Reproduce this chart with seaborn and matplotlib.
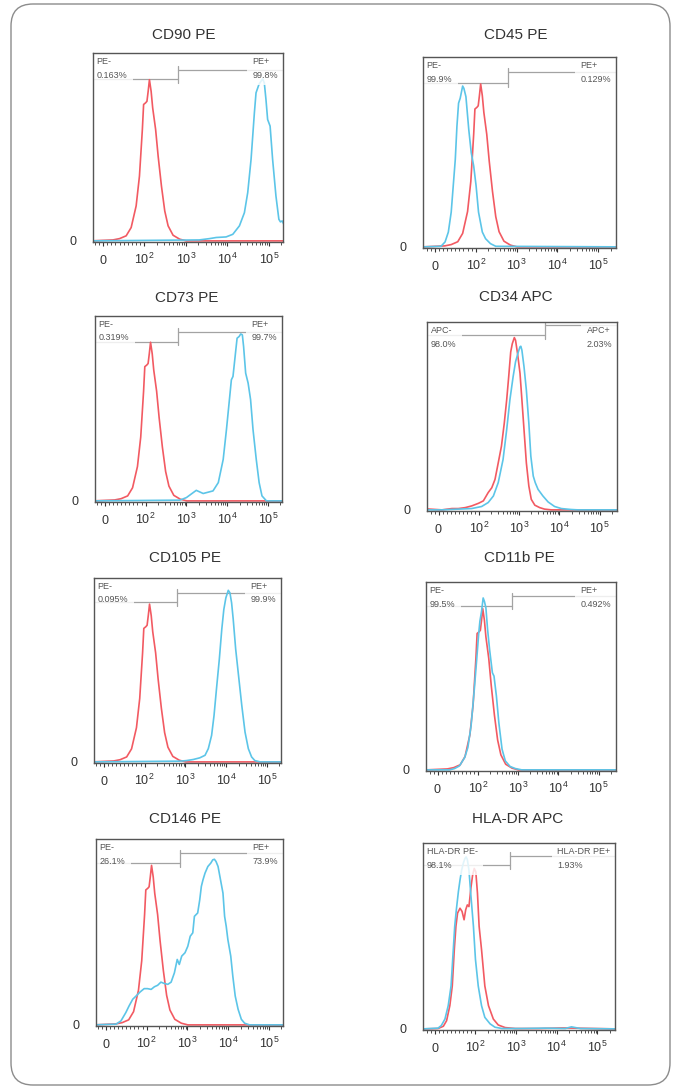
import matplotlib
matplotlib.use('Agg')
import matplotlib.pyplot as plt
import seaborn as sns
from matplotlib.patches import FancyBboxPatch
from matplotlib.ticker import FixedLocator

# intensities on the x axis, y = height as % of the panel
pe_ctrl_x = [-29, 24, 40, 56, 68, 80, 88, 95, 98, 107, 115, 123, 132, 145, 158, 186, 214, 257,
             309, 372, 490, 708, 1020, 270000]
pe_ctrl_y = [0, 0.5, 1.2, 2.7, 7.1, 18.6, 34.5, 59.3, 72.6, 73.5, 74.3, 79.6, 85.8, 79.6, 70.8,
             59.3, 45.1, 29.2, 15.9, 8.0, 3.0, 0.9, 0, 0]

cd90_x = [-29, 2100, 3700, 5400, 9300, 13500, 19500, 25700, 30900, 37200, 44700, 49000, 57500,
          64600, 70800, 77600, 85100, 93300, 107000, 123000, 148000, 174000, 190000, 209000, 240000]
cd90_y = [0, 0.5, 1.2, 1.8, 2.1, 3.5, 8.0, 15.0, 25.7, 43.4, 68.1, 78.8, 83.2, 85.0, 86.2, 84.1,
          75.2, 64.6, 61.1, 43.4, 23.9, 11.5, 10.1, 10.6, 8.0]

cd45_x = [-29, 15, 25, 33, 40, 45, 50, 54, 58, 62, 68, 71, 76, 83, 89, 95, 102, 117, 145, 174,
          229, 309, 270000]
cd45_y = [0, 0.3, 2.6, 7.8, 18.3, 32.2, 46.1, 63.5, 75.7, 78.3, 84.7, 83.5, 79.1, 61.7, 49.6,
          42.6, 32.2, 18.3, 7.8, 4.3, 1.7, 0.3, 0]

cd73_x = [-29, 690, 1000, 1740, 2570, 4470, 6030, 7940, 9550, 11500, 12600, 13800, 16200, 17400,
          19500, 21400, 23400, 25100, 28200, 32400, 37200, 42700, 51300, 60300, 70800, 91200, 270000]
cd73_y = [0, 0.4, 1.8, 5.7, 4.0, 5.4, 9.9, 22.4, 38.6, 56.6, 65.5, 67.3, 81.7, 88.0, 88.9, 90.3,
          89.8, 83.5, 69.1, 63.7, 54.8, 38.6, 22.4, 9.9, 2.7, 0, 0]

cd34_red_x = [-29, 8, 33, 49, 66, 82, 99, 129, 170, 209, 251, 302, 363, 427, 490, 550, 617, 676,
              759, 813, 912, 1050, 1170, 1320, 1510, 1740, 2000, 2450, 3240, 4270, 6310, 270000]
cd34_red_y = [0.5, 0, 0.7, 0.7, 1.2, 2.1, 3.5, 4.8, 9.2, 11.8, 16.2, 25.0, 33.9, 46.2, 58.6, 70.9,
              84.1, 88.5, 91.7, 90.3, 83.2, 72.7, 58.6, 42.7, 25.0, 12.7, 5.6, 2.5, 1.2, 0.4, 0, 0]
cd34_x = [-29, 8, 49, 82, 117, 170, 229, 302, 398, 490, 589, 708, 813, 955, 1050, 1100, 1170, 1320,
          1510, 1740, 1950, 2240, 2510, 2950, 3890, 5250, 7590, 11200, 19500, 28800, 270000]
cd34_y = [0, 0, 0.4, 0.7, 1.8, 3.9, 7.4, 14.5, 26.8, 42.7, 58.6, 70.9, 78.8, 84.1, 86.8, 87.1,
          85.0, 76.2, 63.8, 46.2, 28.6, 18.0, 14.5, 10.9, 7.4, 4.2, 1.8, 0.7, 0.2, 0, 0]

cd105_x = [-29, 720, 1050, 1550, 2240, 3020, 3630, 4370, 5010, 5750, 6760, 7760, 8710, 9770, 11200,
           12300, 13500, 14800, 17000, 20000, 24000, 28800, 34700, 41700, 50100, 67600, 270000]
cd105_y = [0, 0.4, 0.7, 1.3, 2.2, 3.6, 7.2, 14.4, 25.2, 39.6, 55.9, 72.1, 82.9, 89.2, 93.3, 91.9,
           86.5, 77.5, 61.3, 46.8, 30.6, 16.2, 7.2, 2.7, 0.7, 0, 0]

cd11b_x = [-29, 30, 42, 54, 67, 75, 83, 91, 97, 105, 112, 123, 135, 145, 158, 174, 195, 229, 251,
           288, 331, 398, 479, 631, 851, 1230, 270000]
cd11b_y = [0, 0, 0.7, 2.1, 6.5, 11.9, 23.4, 42.8, 58.8, 72.9, 79.1, 84.4, 91.5, 89.7, 86.2, 74.7,
           64.1, 51.7, 49.9, 39.3, 25.1, 11.0, 4.8, 1.8, 0.7, 0, 0]

cd146_x = [-29, 25, 37, 49, 57, 66, 74, 84, 94, 105, 129, 155, 186, 224, 269, 331, 398, 479, 562,
           631, 724, 871, 1020, 1170, 1350, 1480, 1780, 2000, 2190, 2400, 2690, 3160, 3720, 4170,
           4570, 5010, 5620, 6460, 7410, 8130, 8910, 9770, 11500, 12900, 14800, 17400, 20900,
           25100, 33100, 270000]
cd146_y = [0, 0.4, 2.1, 6.6, 10.2, 13.8, 15.5, 17.7, 19.5, 19.5, 19.1, 20.5, 21.3, 23.0, 22.3,
           21.8, 23.0, 28.0, 35.2, 32.5, 37.0, 38.8, 42.3, 47.7, 49.5, 58.4, 60.2, 67.3, 74.5,
           78.0, 81.6, 85.2, 87.0, 88.8, 89.1, 87.9, 85.2, 78.0, 70.9, 58.4, 53.0, 45.9, 37.0,
           26.3, 15.5, 8.4, 3.0, 0.9, 0, 0]

hladr_red_x = [-29, 8, 21, 29, 37, 43, 48, 52, 56, 62, 67, 72, 76, 80, 84, 89, 93, 97, 102, 112,
               123, 141, 170, 209, 275, 363, 537, 955, 3550, 13500, 28800, 270000]
hladr_red_y = [0, 0.2, 1.4, 4.4, 12.5, 23.1, 42.7, 55.2, 62.3, 64.9, 63.2, 58.7, 64.1, 66.7, 65.8,
               76.2, 82.7, 86.3, 84.5, 73.0, 55.2, 42.7, 23.1, 12.5, 5.3, 2.1, 0.7, 0.2, 0.2, 0.5,
               0.4, 0]
hladr_x = [-29, 8, 16, 25, 33, 40, 45, 49, 53, 58, 62, 66, 70, 74, 77, 80, 84, 89, 95, 100, 117,
           141, 170, 229, 302, 447, 1380, 5250, 16200, 22900, 28800, 38000, 270000]
hladr_y = [0, 0.4, 1.8, 5.3, 12.5, 23.1, 40.9, 55.2, 64.1, 73.8, 80.1, 85.4, 89.0, 91.6, 92.5,
           91.1, 85.4, 71.2, 55.2, 37.4, 23.1, 12.5, 6.2, 2.7, 0.9, 0.2, 0.2, 0.4, 0.2, 1.1, 0.7,
           0.2, 0]

titles = ['CD90 PE', 'CD45 PE', 'CD73 PE', 'CD34 APC', 'CD105 PE', 'CD11b PE', 'CD146 PE',
          'HLA-DR APC']
neg_labels = ['PE-', 'PE-', 'PE-', 'APC-', 'PE-', 'PE-', 'PE-', 'HLA-DR PE-']
pos_labels = ['PE+', 'PE+', 'PE+', 'APC+', 'PE+', 'PE+', 'PE+', 'HLA-DR PE+']
neg_pct = ['0.163%', '99.9%', '0.319%', '98.0%', '0.095%', '99.5%', '26.1%', '98.1%']
pos_pct = ['99.8%', '0.129%', '99.7%', '2.03%', '99.9%', '0.492%', '73.9%', '1.93%']
gate_split = [650, 600, 630, 4470, 630, 700, 670, 710]

tick_values = [0, 100, 1000, 10000, 100000]
tick_labels = ['$0$', '$10^{2}$', '$10^{3}$', '$10^{4}$', '$10^{5}$']
minor_values = [-20, -10, 10, 20, 30, 40, 50, 60, 70, 80, 90,
                200, 300, 400, 500, 600, 700, 800, 900,
                2000, 3000, 4000, 5000, 6000, 7000, 8000, 9000,
                20000, 30000, 40000, 50000, 60000, 70000, 80000, 90000, 200000]

RED = '#f25a62'
BLUE = '#5cc5e8'

# layout in pixels: frame (left, top, right, bottom), title centre, gate heights
frames = [(93, 53, 283, 242), (423, 57, 616, 248), (95, 316, 282, 502), (427, 322, 617, 511),
          (94, 578, 281, 763), (426, 582, 616, 771), (96, 839, 283, 1026), (423, 843, 615, 1030)]
title_pos = [(184, 35), (516, 35), (187, 298), (516, 297), (185, 558), (519, 558), (185, 819),
             (518, 819)]
gate_heights = [(86.2, 91.2), (86.4, 92.2), (86.2, 91.6), (92.9, 98.2), (86.8, 91.9), (87.4, 92.4),
                (87.0, 92.3), (88.1, 92.9)]
xlims = [(-24, 2.19e5), (-29, 2.7e5)]

curves = [
    (pe_ctrl_x, pe_ctrl_y, cd90_x, cd90_y),
    (pe_ctrl_x, pe_ctrl_y, cd45_x, cd45_y),
    (pe_ctrl_x, pe_ctrl_y, cd73_x, cd73_y),
    (cd34_red_x, cd34_red_y, cd34_x, cd34_y),
    (pe_ctrl_x, pe_ctrl_y, cd105_x, cd105_y),
    (pe_ctrl_x, pe_ctrl_y, cd11b_x, cd11b_y),
    (pe_ctrl_x, pe_ctrl_y, cd146_x, cd146_y),
    (hladr_red_x, hladr_red_y, hladr_x, hladr_y),
]


def setup_style():
    sns.set_style('white')
    plt.rcParams['font.family'] = ['Liberation Sans', 'DejaVu Sans']
    plt.rcParams['mathtext.fontset'] = 'custom'
    plt.rcParams['mathtext.rm'] = 'Liberation Sans'
    plt.rcParams['mathtext.default'] = 'regular'


def draw_panel(fig, i):
    W, H = 674, 1087
    left, top, right, bottom = frames[i]
    ax = fig.add_axes([left / W, 1 - bottom / H, (right - left) / W, (bottom - top) / H])
    xlim = xlims[i % 2]
    rx, ry, bx, by = curves[i]

    sns.lineplot(x=rx, y=ry, ax=ax, color=RED, lw=1.2, sort=False, estimator=None, zorder=3)
    sns.lineplot(x=bx, y=by, ax=ax, color=BLUE, lw=1.2, sort=False, estimator=None, zorder=3)

    ax.set_xscale('symlog', linthresh=100, linscale=0.9)
    ax.set_xlim(*xlim)
    ax.set_ylim(-0.6, 100)
    ax.set_xlabel('')
    ax.set_ylabel('')

    # bisector gate
    split = gate_split[i]
    yn, yp = gate_heights[i]
    gc = '#a3a3a3'
    ax.plot([xlim[0], split], [yn, yn], color=gc, lw=0.9, zorder=2)
    ax.plot([split, xlim[1]], [yp, yp], color=gc, lw=0.9, zorder=2)
    ax.plot([split, split], [yn - 2, yp + 2], color=gc, lw=0.9, zorder=2)

    box = dict(boxstyle='square,pad=0.6', fc='white', ec='none', alpha=0.82)
    ax.text(0.019, 0.977, neg_labels[i] + '\n' + neg_pct[i], transform=ax.transAxes,
            ha='left', va='top', fontsize=6.5, color='#555', linespacing=1.6, bbox=box, zorder=5)
    ax.text(0.975, 0.977, pos_labels[i] + '\n' + pos_pct[i], transform=ax.transAxes,
            ha='right', va='top', multialignment='left', fontsize=6.5, color='#555',
            linespacing=1.6, bbox=box, zorder=5)

    ax.xaxis.set_major_locator(FixedLocator(tick_values))
    ax.set_xticklabels(tick_labels)
    ax.xaxis.set_minor_locator(FixedLocator(minor_values))
    ax.tick_params(axis='x', which='major', direction='out', length=3, width=0.8,
                   color='#333', pad=13, labelsize=9, labelcolor='#333', bottom=True)
    ax.tick_params(axis='x', which='minor', direction='out', length=2, width=0.6,
                   color='#333', bottom=True)
    for lbl in ax.get_xticklabels():
        lbl.set_verticalalignment('baseline')
    ax.set_yticks([0])
    ax.set_yticklabels(['0'])
    ax.tick_params(axis='y', length=0, pad=12, labelsize=9, labelcolor='#333')
    for sp in ax.spines.values():
        sp.set_visible(True)
        sp.set_color('#555')
        sp.set_linewidth(1.0)
        sp.set_zorder(6)

    tx, ty = title_pos[i]
    fig.text(tx / W, 1 - ty / H, titles[i], ha='center', va='center', fontsize=11, color='#333')
    return ax


setup_style()
fig = plt.figure(figsize=(6.74, 10.87), dpi=100)
fig.patch.set_facecolor('white')
border = FancyBboxPatch((0.11, 0.02), 6.59, 10.81, boxstyle='round,pad=0,rounding_size=0.22',
                        transform=fig.dpi_scale_trans, fc='none', ec='#8c8c8c', lw=1.0)
fig.add_artist(border)

for i in range(len(titles)):
    draw_panel(fig, i)

fig.savefig('out.png', dpi=100)
